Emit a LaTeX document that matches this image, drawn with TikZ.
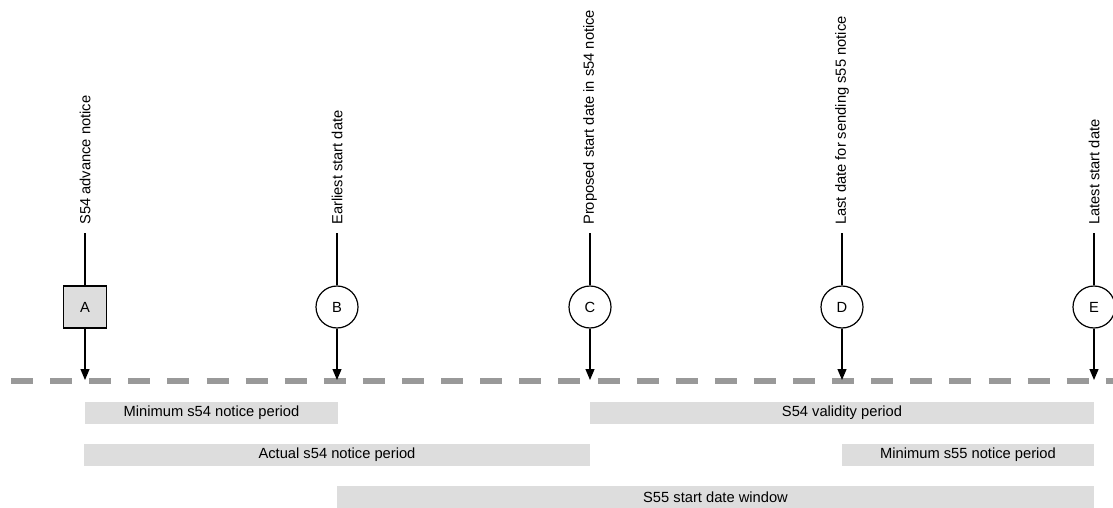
\documentclass[tikz,border=0pt]{standalone}
\usepackage{fontspec}
\setmainfont{Liberation Sans}
\usetikzlibrary{arrows.meta}
\definecolor{barfill}{HTML}{DDDDDD}
\definecolor{axisgray}{HTML}{999999}
\begin{document}
\begin{tikzpicture}[x=1pt,y=-1pt,font=\fontsize{14.7}{17}\selectfont,
  evlabel/.style={rotate=90,anchor=west,inner xsep=8pt,inner ysep=0pt},
  evbox/.style={draw=black,line width=1.2pt,fill=barfill,minimum width=43pt,minimum height=42pt,inner sep=0pt},
  evcircle/.style={circle,draw=black,line width=1.2pt,fill=white,minimum size=42pt,inner sep=0pt},
  stem/.style={line width=1.2pt},
  pointer/.style={line width=1.2pt,-{Triangle[width=9pt,length=11pt]}},
  timeline/.style={axisgray,line width=6pt,dash pattern=on 22pt off 17.1pt},
  period/.style={fill=barfill,minimum height=22pt,inner sep=0pt}]
\useasboundingbox (0,0) rectangle (1113,508);

% time axis
\coordinate (axisL) at (11,380.5);
\coordinate (axisR) at (1113,380.5);
\draw[timeline] (axisL) -- (axisR);

% events
\foreach \n/\x/\shape/\txt in {
  A/85/evbox/S54 advance notice,
  B/337/evcircle/Earliest start date,
  C/590/evcircle/Proposed start date in s54 notice,
  D/842/evcircle/Last date for sending s55 notice,
  E/1094/evcircle/Latest start date}{
  \node[evlabel] (l\n) at (\x,233) {\txt};
  \node[\shape] (\n) at (\x,307) {\n};
  \coordinate (t\n) at (\x,380);
  \draw[stem] (l\n.west) -- (\n.north);
  \draw[pointer] (\n.south) -- (t\n);
}

% periods
\node[period,minimum width=253pt] (minS54) at (211.5,413) {Minimum s54 notice period};
\node[period,minimum width=504pt] (valS54) at (842,413) {S54 validity period};
\node[period,minimum width=506pt] (actS54) at (337,455) {Actual s54 notice period};
\node[period,minimum width=252pt] (minS55) at (968,455) {Minimum s55 notice period};
\node[period,minimum width=757pt] (winS55) at (715.5,497) {S55 start date window};
\end{tikzpicture}
\end{document}
